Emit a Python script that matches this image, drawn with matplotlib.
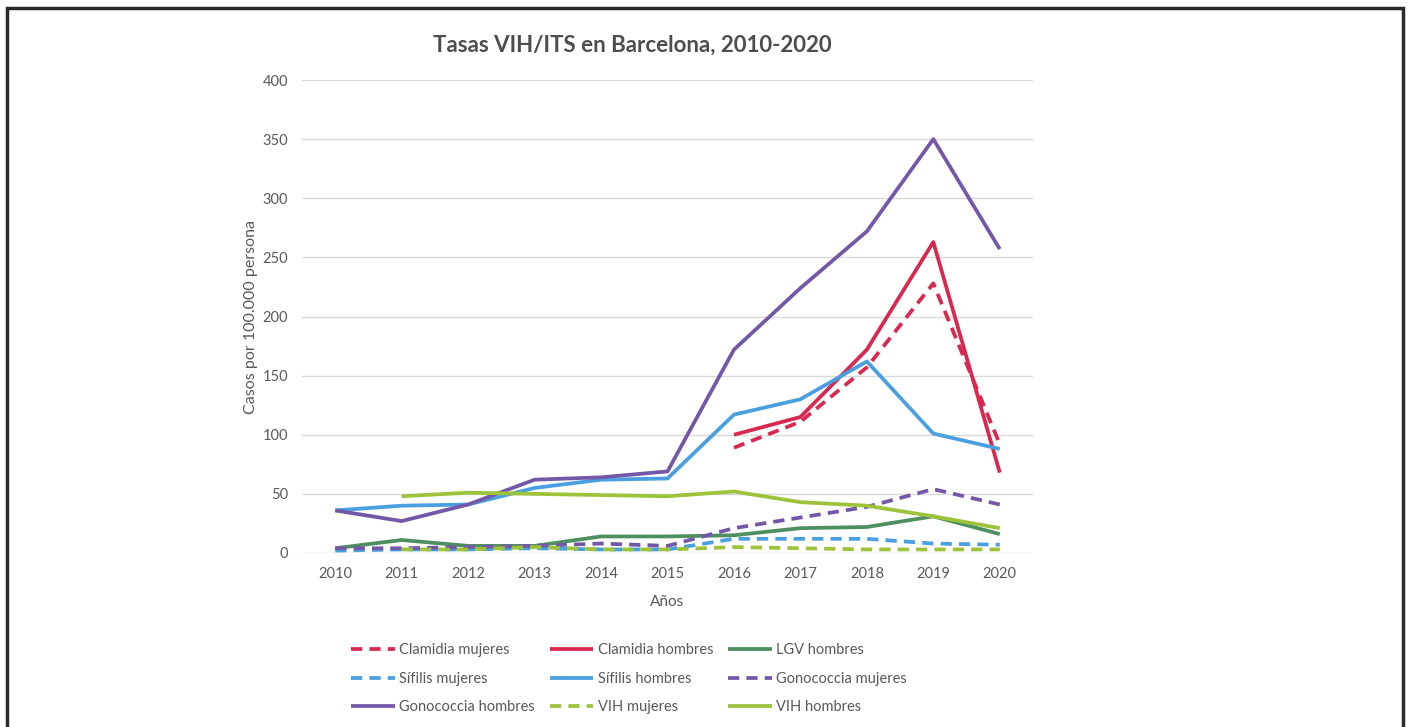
import numpy as np
import matplotlib
matplotlib.use("Agg")
import matplotlib.pyplot as plt
from matplotlib.patches import Rectangle

nan = np.nan
years = [2010, 2011, 2012, 2013, 2014, 2015, 2016, 2017, 2018, 2019, 2020]

clamidia_mujeres = [nan, nan, nan, nan, nan, nan, 89, 111, 157, 228, 92]
clamidia_hombres = [nan, nan, nan, nan, nan, nan, 100, 115, 172, 263, 68]
lgv_hombres = [4, 11, 6, 6, 14, 14, 15, 21, 22, 31, 16]
sifilis_mujeres = [2, 3, 3, 4, 3, 3, 12, 12, 12, 8, 7]
sifilis_hombres = [36, 40, 41, 55, 62, 63, 117, 130, 162, 101, 88]
gono_mujeres = [4, 4, 5, 6, 8, 6, 21, 30, 39, 54, 41]
gono_hombres = [36, 27, 41, 62, 64, 69, 172, 224, 272, 350, 257]
vih_mujeres = [nan, 3, 3, 5, 3, 3, 5, 4, 3, 3, 3]
vih_hombres = [nan, 48, 51, 50, 49, 48, 52, 43, 40, 31, 21]

RED = "#D9284F"
BLUE = "#4A9FE0"
GREEN = "#4E8F5F"
PURPLE = "#7358A8"
LIME = "#9CC33A"
TXT = "#595959"

plt.rcParams["font.family"] = ["Lato", "DejaVu Sans"]

fig = plt.figure(figsize=(14.1, 7.27), dpi=100)
ax = fig.add_axes([302 / 1410, 174 / 727, 731 / 1410, 473 / 727])

series = [
    ("Clamidia mujeres", clamidia_mujeres, RED, True),
    ("Clamidia hombres", clamidia_hombres, RED, False),
    ("LGV hombres", lgv_hombres, GREEN, False),
    ("Sífilis mujeres", sifilis_mujeres, BLUE, True),
    ("Sífilis hombres", sifilis_hombres, BLUE, False),
    ("Gonococcia mujeres", gono_mujeres, PURPLE, True),
    ("Gonococcia hombres", gono_hombres, PURPLE, False),
    ("VIH mujeres", vih_mujeres, LIME, True),
    ("VIH hombres", vih_hombres, LIME, False),
]

handles = {}
for name, vals, col, dashed in series:
    (ln,) = ax.plot(years, vals, color=col, lw=2.7, label=name,
                    solid_capstyle="butt", dash_capstyle="butt")
    if dashed:
        ln.set_dashes((3, 1.9))
    handles[name] = ln

ax.set_xlim(2009.5, 2020.5)
ax.set_ylim(0, 400)
ax.set_xticks(years)
ax.set_yticks(range(0, 401, 50))
ax.tick_params(length=0, labelsize=10.5, colors=TXT, pad=10)
ax.grid(axis="y", color="#D9D9D9", lw=1)
ax.set_axisbelow(True)
for s in ax.spines.values():
    s.set_visible(False)

ax.set_ylabel("Casos por 100.000 persona", fontsize=11.5, color=TXT, labelpad=3)
ax.set_xlabel("Años", fontsize=11, color=TXT, labelpad=10)

fig.text(632 / 1410, 1 - 45 / 727, "Tasas VIH/ITS en Barcelona, 2010-2020",
         ha="center", va="center", fontsize=16, fontweight="bold", color="#4D4D4D")

# legend filled column-wise, so reorder to read row-wise like the original
order = ["Clamidia mujeres", "Sífilis mujeres", "Gonococcia hombres",
         "Clamidia hombres", "Sífilis hombres", "VIH mujeres",
         "LGV hombres", "Gonococcia mujeres", "VIH hombres"]
leg = fig.legend([handles[k] for k in order], order, ncol=3,
                 loc="upper left", bbox_to_anchor=(338 / 1410, 1 - 630 / 727),
                 frameon=False, fontsize=10.5, handlelength=3.0,
                 handletextpad=0.3, columnspacing=1.0, labelspacing=1.0)
for t in leg.get_texts():
    t.set_color(TXT)

# outer frame of the screenshot
fig.patches.append(Rectangle((7 / 1410, -0.05), 1396 / 1410, 1.05 - 8 / 727,
                             transform=fig.transFigure, fill=False,
                             edgecolor="#2B2B2B", lw=2.5))

fig.savefig("out.png", dpi=100)
